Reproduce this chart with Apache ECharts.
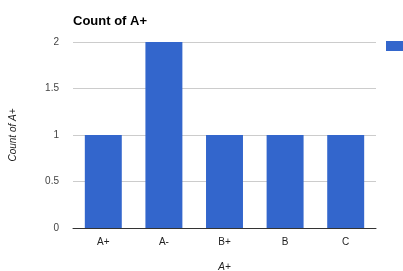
<!DOCTYPE html>
<html>
<head>
<meta charset="utf-8">
<script src="https://cdn.jsdelivr.net/npm/echarts@6/dist/echarts.min.js"></script>
<style>
  html, body { margin: 0; padding: 0; background: #fff; }
  #main { width: 403px; height: 271px; }
</style>
</head>
<body>
<div id="main"></div>
<script>
// data
var categories = ['A+', 'A-', 'B+', 'B', 'C'];
var counts = [1, 2, 1, 1, 1];
var seriesName = 'Count of A+';

var myChart = echarts.init(document.getElementById('main'));

var font = 'Arial, "Liberation Sans", sans-serif';

var option = {
  backgroundColor: '#fff',
  animation: false,
  title: {
    text: 'Count of A+',
    left: 68,
    top: 10,
    textStyle: { fontFamily: font, fontSize: 13, fontWeight: 'bold', color: '#000' }
  },
  legend: {
    data: [seriesName],
    left: 386,
    top: 41,
    padding: 0,
    itemWidth: 17,
    itemHeight: 10,
    itemGap: 0,
    formatter: function () { return ''; },
    textStyle: { fontSize: 10 },
    icon: 'rect'
  },
  grid: { left: 73, right: 27, top: 42, bottom: 43, containLabel: false, outerBoundsMode: 'none' },
  xAxis: {
    type: 'category',
    data: categories,
    name: 'A+',
    nameLocation: 'middle',
    nameGap: 34,
    nameTextStyle: { fontFamily: font, fontStyle: 'italic', fontSize: 10, color: '#222' },
    axisLine: { lineStyle: { color: '#333', width: 1 } },
    axisTick: { show: false },
    axisLabel: { fontFamily: font, fontSize: 10, color: '#222', margin: 9 }
  },
  yAxis: {
    type: 'value',
    min: 0,
    max: 2,
    interval: 0.5,
    name: 'Count of A+',
    nameLocation: 'middle',
    nameGap: 55,
    nameTextStyle: { fontFamily: font, fontStyle: 'italic', fontSize: 10, color: '#222' },
    axisLine: { show: false },
    axisTick: { show: false },
    axisLabel: { fontFamily: font, fontSize: 10, color: '#444', margin: 14 },
    splitLine: { lineStyle: { color: '#ccc', width: 1 } }
  },
  series: [{
    name: seriesName,
    type: 'bar',
    data: counts,
    barWidth: '61%',
    itemStyle: { color: '#3366cc' }
  }]
};

myChart.setOption(option);
</script>
</body>
</html>
